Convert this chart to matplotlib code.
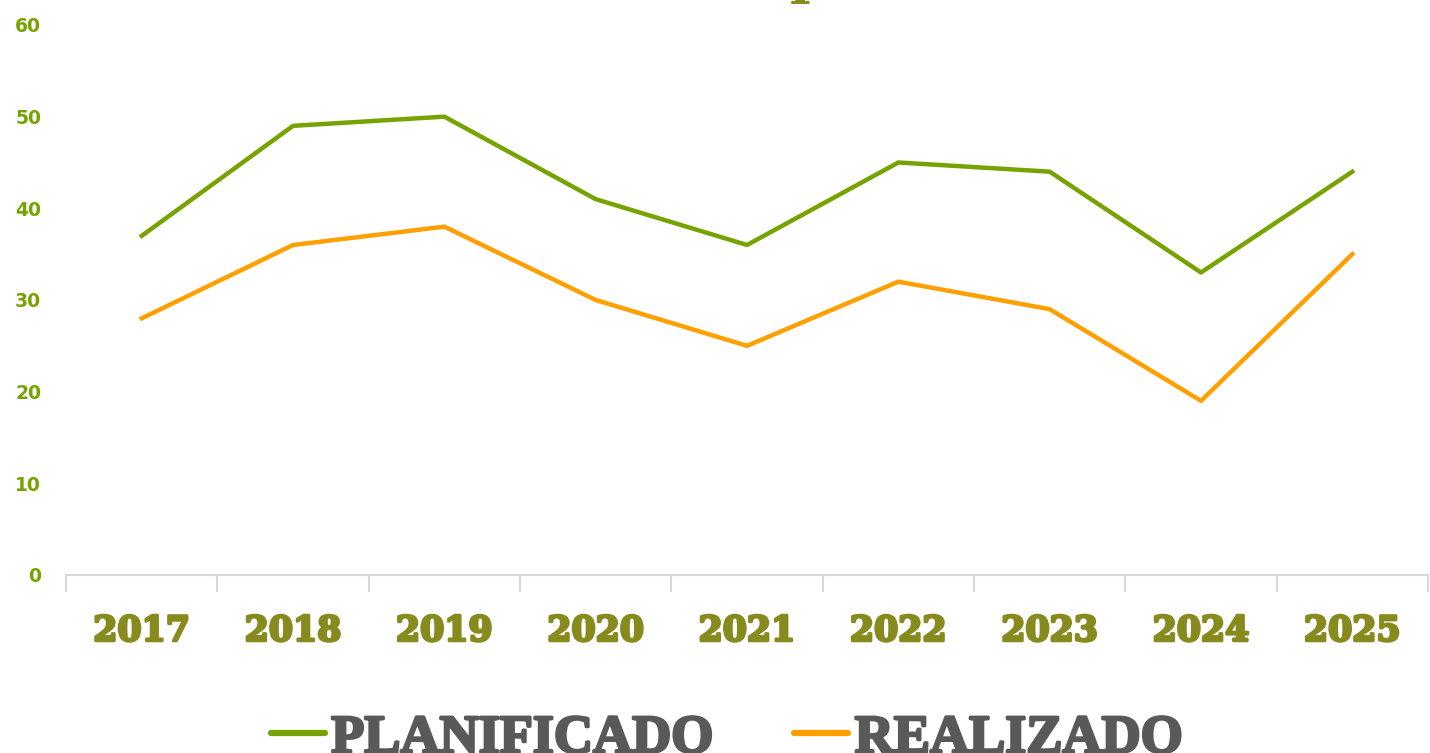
import matplotlib.pyplot as plt
import matplotlib.patheffects as pe

years = ['2017', '2018', '2019', '2020', '2021', '2022', '2023', '2024', '2025']
planificado = [37, 49, 50, 41, 36, 45, 44, 33, 44]
realizado = [28, 36, 38, 30, 25, 32, 29, 19, 35]
y_ticks = [0, 10, 20, 30, 40, 50, 60]

green = '#76a300'
orange = '#ff9f00'
olive = '#878a1c'
grey_text = '#595959'
axis_grey = '#d9d9d9'

fig = plt.figure(figsize=(14.3, 7.53), dpi=100)
ax = fig.add_axes([0.0462, 0.2364, 0.9524, 0.7304])

x = list(range(len(years)))
ax.plot(x, planificado, color=green, linewidth=3.2, label='PLANIFICADO')
ax.plot(x, realizado, color=orange, linewidth=3.2, label='REALIZADO')

ax.set_xlim(-0.5, len(years) - 0.5)
ax.set_ylim(0, 60)
ax.set_yticks(y_ticks)
ax.set_yticklabels([str(v) for v in y_ticks], color=green, fontsize=13.5,
                   fontweight='bold', family='DejaVu Sans')
ax.tick_params(axis='y', length=0, pad=18)

# category labels at centres, tick marks at the boundaries
ax.set_xticks(x)
ax.set_xticklabels(years, color=olive, fontsize=25, fontweight='bold',
                   family='DejaVu Serif')
for t in ax.get_xticklabels():
    t.set_path_effects([pe.withStroke(linewidth=2, foreground=olive)])
ax.tick_params(axis='x', which='major', length=0, pad=28)
ax.set_xticks([i - 0.5 for i in range(len(years) + 1)], minor=True)
ax.tick_params(axis='x', which='minor', length=12, width=1.5, color=axis_grey)

for side in ['top', 'right', 'left']:
    ax.spines[side].set_visible(False)
ax.spines['bottom'].set_color(axis_grey)
ax.spines['bottom'].set_linewidth(1.5)

leg = fig.legend(loc='center', bbox_to_anchor=(0.508, 0.018), ncol=2,
                 frameon=False, handlelength=1.0, handletextpad=0.12,
                 columnspacing=1.5,
                 prop={'family': 'Liberation Serif', 'weight': 'bold', 'size': 39})
for t in leg.get_texts():
    t.set_color(grey_text)
    t.set_path_effects([pe.withStroke(linewidth=2, foreground=grey_text)])
for h in leg.get_lines():
    h.set_linewidth(4.5)
    h.set_solid_capstyle('round')

# title falls outside the top edge; only a sliver remains visible
fig.text(0.566, 1.011, 'p', color=olive, fontsize=40, fontweight='bold',
         family='DejaVu Serif', ha='center', va='baseline')

fig.savefig('out.png', dpi=100)
